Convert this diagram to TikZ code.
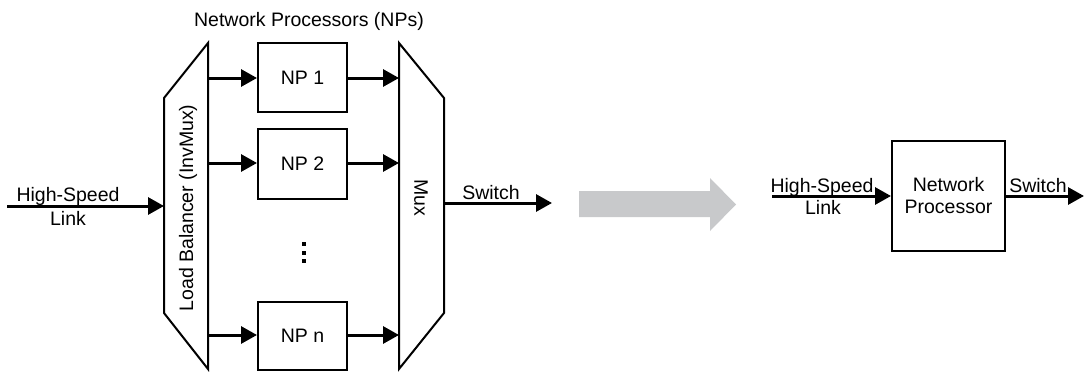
\documentclass[tikz,border=0pt]{standalone}
\usepackage{fontspec}
\setmainfont{Liberation Sans}
\usetikzlibrary{arrows.meta}
\definecolor{grayarrow}{RGB}{200,201,203}
\begin{document}
\begin{tikzpicture}[x=1pt,y=-1pt,
  font=\fontsize{19.5pt}{22pt}\selectfont,
  shapeline/.style={draw=black, line width=2pt, line join=miter},
  npbox/.style={draw=black, line width=2pt, minimum width=89pt, inner sep=0pt},
  arr/.style={draw=black, line width=3pt, -{Triangle[length=16pt,width=17pt]}},
  lbl/.style={anchor=base, inner sep=0pt},
  dotsq/.style={fill=black, minimum size=4.5pt, inner sep=0pt}
]
\useasboundingbox (0,0) rectangle (1084,372);

% title
\node[lbl] (title) at (309,27) {Network Processors (NPs)};

% load balancer (trapezoid)
\draw[shapeline] (164,98) -- (208,43) -- (208,369) -- (164,313) -- cycle;
\node[rotate=90, inner sep=0pt] (lbtext) at (188,208) {Load Balancer (InvMux)};

% mux (trapezoid)
\draw[shapeline] (399,43) -- (444,98) -- (444,313) -- (399,369) -- cycle;
\node[rotate=-90, inner sep=0pt] (muxtext) at (421,198) {Mux};

% NP boxes
\node[npbox, minimum height=69pt] (np1) at (302.5,77.5) {NP 1};
\node[npbox, minimum height=70pt] (np2) at (302.5,164) {NP 2};
\node[npbox, minimum height=68pt] (npn) at (302.5,336) {NP n};

% dots
\node[dotsq] (d1) at (304,244) {};
\node[dotsq] (d2) at (304,253) {};
\node[dotsq] (d3) at (304,261) {};

% coordinates on trapezoids
\coordinate (lbin) at (164,206);
\coordinate (lb1) at (208,78);
\coordinate (lb2) at (208,163);
\coordinate (lbn) at (208,335);
\coordinate (mx1) at (399,78);
\coordinate (mx2) at (399,163);
\coordinate (mxn) at (399,335);
\coordinate (mxout) at (444,203);
\coordinate (inL) at (7,206);
\coordinate (swL) at (552,203);

% arrows left part
\draw[arr] (inL) -- (lbin);
\draw[arr] (lb1) -- (lb1 -| np1.west);
\draw[arr] (lb2) -- (lb2 -| np2.west);
\draw[arr] (lbn) -- (lbn -| npn.west);
\draw[arr] (mx1 -| np1.east) -- (mx1);
\draw[arr] (mx2 -| np2.east) -- (mx2);
\draw[arr] (mxn -| npn.east) -- (mxn);
\draw[arr] (mxout) -- (swL);

% labels left
\node[lbl] (hsL) at (68,201) {High-Speed};
\node[lbl] (linkL) at (68,225) {Link};
\node[lbl] (switchL) at (491,199) {Switch};

% big gray arrow
\fill[grayarrow] (579,191) -- (710,191) -- (710,178) -- (736,204.5) -- (710,231) -- (710,217) -- (579,217) -- cycle;

% right part
\node[draw=black, line width=2pt, minimum width=113pt, minimum height=110pt, align=center, inner sep=0pt] (npR) at (948.5,196) {Network\\Processor};
\coordinate (inR) at (772,196);
\coordinate (outR) at (1084,196);
\draw[arr] (inR) -- (npR.west);
\draw[arr] (npR.east) -- (outR);
\node[lbl] (hsR) at (822,192) {High-Speed};
\node[lbl] (linkR) at (823,214) {Link};
\node[lbl] (switchR) at (1038,192) {Switch};
\end{tikzpicture}
\end{document}
